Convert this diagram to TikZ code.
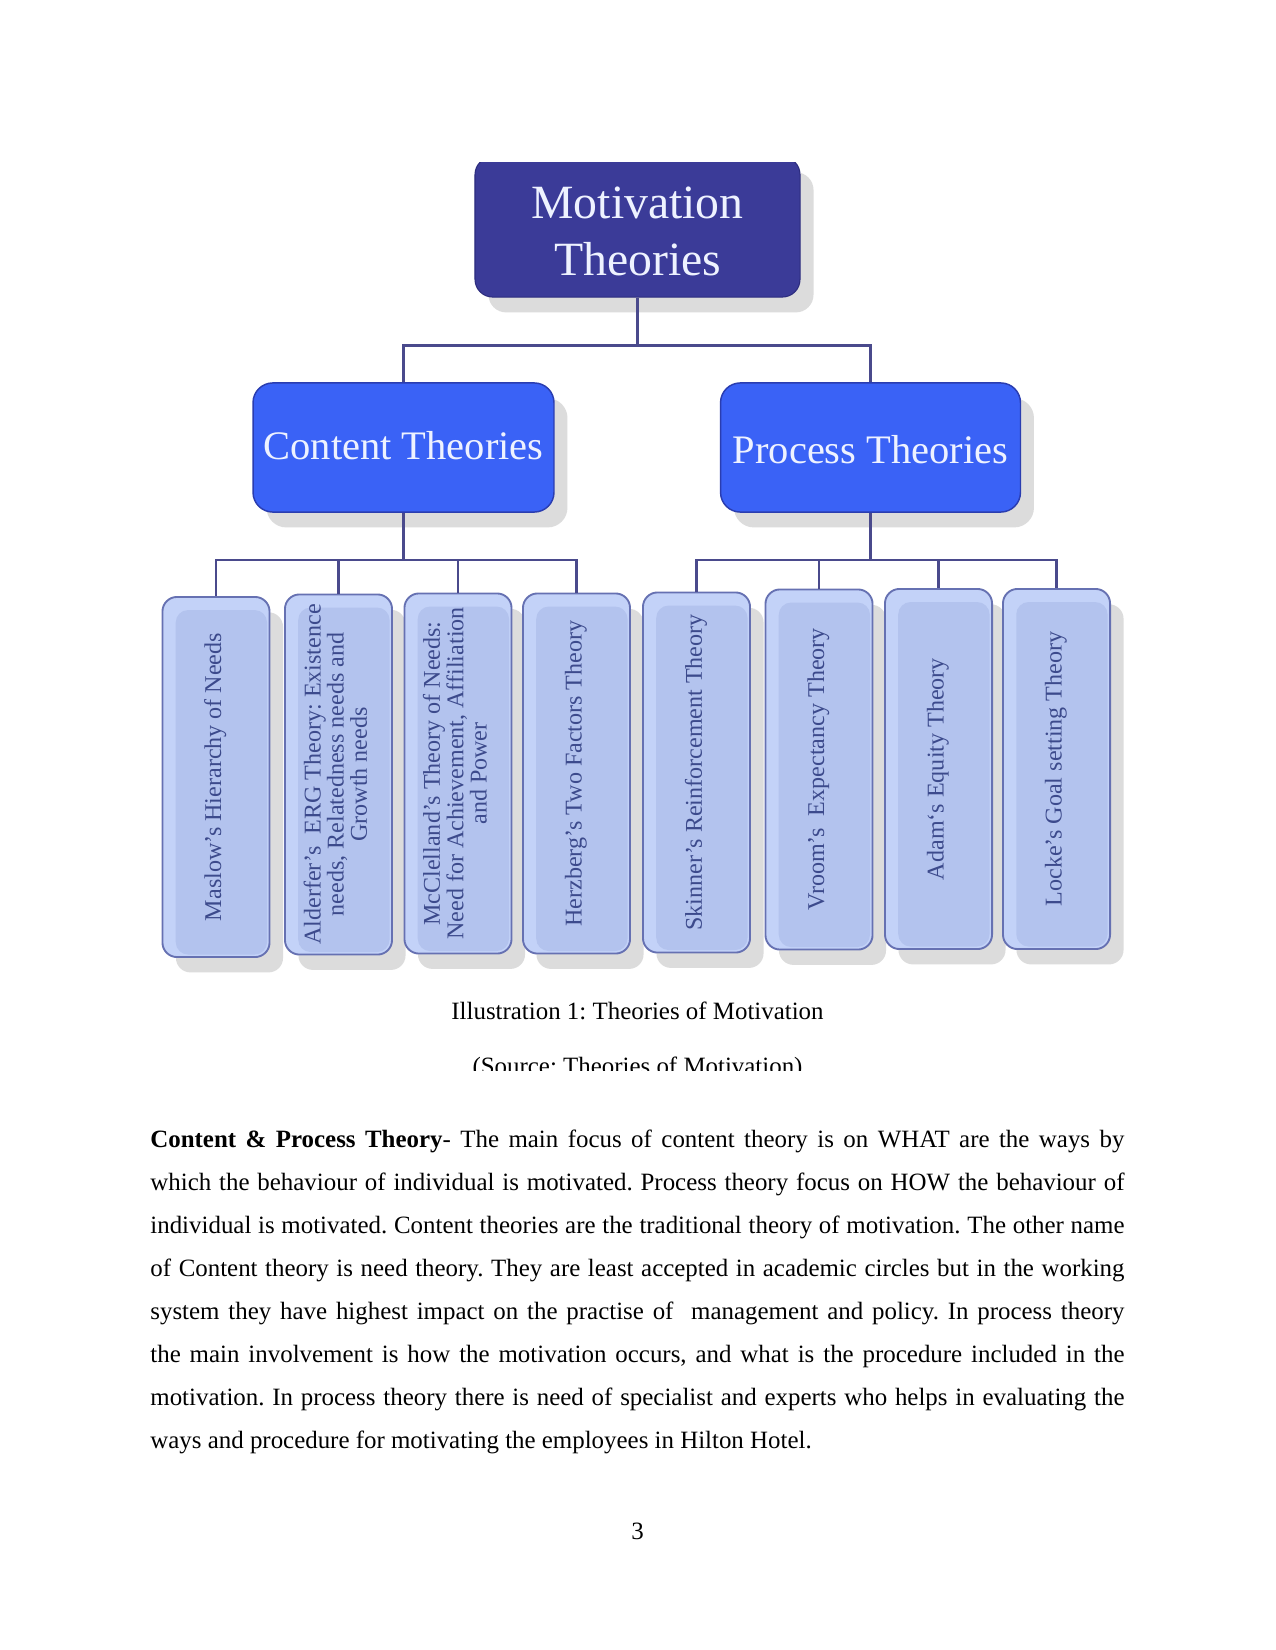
\documentclass[tikz,border=0pt]{standalone}
\usepackage{fontspec}
\setmainfont{Liberation Serif}
\usepackage{graphicx}
\usetikzlibrary{shadows}
\frenchspacing

\definecolor{motblue}{HTML}{3B3B98}
\definecolor{motedge}{HTML}{2C2C7E}
\definecolor{grpblue}{HTML}{3A62F6}
\definecolor{grpedge}{HTML}{2A3DB0}
\definecolor{leafout}{HTML}{C3D2F8}
\definecolor{leafin}{HTML}{B3C3EE}
\definecolor{leafedge}{HTML}{6671B2}
\definecolor{leaftext}{HTML}{3C4A8C}
\definecolor{linkcol}{HTML}{4A4A8C}
\definecolor{shadowgray}{HTML}{DCDCDC}
\definecolor{headtext}{HTML}{EEF2FF}

\newcommand\leaffont{\fontsize{11.6}{10.4}\selectfont}
\newcommand\leaftext[1]{\rotatebox{90}{\leaffont\begin{tabular}{@{}c@{}}#1\end{tabular}}}
\newcommand\nudge[2]{\raisebox{#1}[\height][\depth]{#2}}

\tikzset{
  boxshadow/.style={drop shadow={shadow xshift=6.5pt, shadow yshift=-7.4pt, fill=shadowgray, opacity=1}},
  topbox/.style={boxshadow, fill=motblue, draw=motedge, line width=0.5pt, rounded corners=8.5pt,
    minimum width=156.6pt, minimum height=67.5pt, inner sep=0pt, text=headtext,
    font=\fontsize{23}{27.5}\selectfont},
  groupbox/.style={boxshadow, fill=grpblue, draw=grpedge, line width=0.7pt, rounded corners=9.5pt,
    minimum height=62.2pt, inner sep=0pt, text=headtext, font=\fontsize{19.5}{23}\selectfont},
  leafbox/.style={boxshadow, fill=leafout, draw=leafedge, line width=0.9pt, rounded corners=7pt,
    minimum width=51.6pt, minimum height=173.5pt, inner sep=0pt, text=leaftext,
    path picture={\fill[leafin, rounded corners=6pt]
      ([xshift=6.4pt,yshift=-6.3pt]path picture bounding box.north west) rectangle
      ([xshift=-1.2pt,yshift=1.2pt]path picture bounding box.south east);}},
  link/.style={draw=linkcol, line width=1.2pt},
  pagetext/.style={font=\fontsize{12}{14}\selectfont, inner sep=0pt}
}

\begin{document}
\begin{tikzpicture}[x=0.4818pt, y=-0.4818pt]
  \useasboundingbox[fill=white] (0,0) rectangle (1275,1650);

  % top of the tree
  \node[topbox] (mot) at (637.5,227) {\nudge{-4pt}{\begin{tabular}{@{}c@{}}Motivation\\Theories\end{tabular}}};
  \fill[white] (420,120) rectangle (840,162);

  % the two groups
  \node[groupbox, minimum width=145pt] (content) at (403.5,447.5) {\nudge{1pt}{Content Theories}};
  \node[groupbox, minimum width=144.5pt] (process) at (870.5,447.5) {\nudge{-1pt}{Process Theories}};

  % content theories
  \node[leafbox] (maslow) at (216,777) {\leaftext{Maslow’s Hierarchy of Needs}};
  \node[leafbox] (alderfer) at (338.5,774.5) {\leaftext{Alderfer’s\ \ ERG Theory: Existence\\needs, Relatedness needs and\\Growth needs}};
  \node[leafbox] (mcclelland) at (458,773.5) {\leaftext{McClelland’s Theory of Needs:\\Need for Achievement, Affiliation\\and Power}};
  \node[leafbox] (herzberg) at (576.5,773.5) {\leaftext{Herzberg’s Two Factors Theory}};

  % process theories
  \node[leafbox] (skinner) at (696.5,772.5) {\leaftext{Skinner’s Reinforcement Theory}};
  \node[leafbox] (vroom) at (819,769.5) {\leaftext{Vroom’s\ \ Expectancy Theory}};
  \node[leafbox] (adam) at (938.5,769) {\leaftext{Adam{\char"60}s Equity Theory}};
  \node[leafbox] (locke) at (1056.5,769) {\leaftext{Locke’s Goal setting Theory}};

  % connectors
  \draw[link] (mot.south) -- ++(0,48) coordinate (motbar);
  \draw[link] (motbar) -| (content.north);
  \draw[link] (motbar) -| (process.north);
  \draw[link] (content.south) -- ++(0,47) coordinate (cbar);
  \draw[link] (process.south) -- ++(0,47) coordinate (pbar);
  \foreach \leaf in {maslow,alderfer,mcclelland,herzberg}
    \draw[link] (cbar) -| (\leaf.north);
  \foreach \leaf in {skinner,vroom,adam,locke}
    \draw[link] (pbar) -| (\leaf.north);

  % caption
  \node[pagetext, anchor=base] (caption) at (637.5,1019) {Illustration 1: Theories of Motivation};
  \begin{scope}
    \clip (300,1030) rectangle (975,1070);
    \node[pagetext, anchor=base] (source) at (637.5,1074) {(Source: Theories of Motivation)};
  \end{scope}

  % body text
  \node[pagetext, anchor=base west] (body) at (150,1147) {\parbox[t]{469.3pt}{%
    \fontsize{12}{20.75}\selectfont\parindent=0pt\tolerance=9999
    \textbf{Content \& Process Theory}- The main focus of content theory is on WHAT are the ways by\linebreak
    which the behaviour of individual is motivated. Process theory focus on HOW the behaviour of\linebreak
    individual is motivated. Content theories are the traditional theory of motivation. The other name\linebreak
    of Content theory is need theory. They are least accepted in academic circles but in the working\linebreak
    system they have highest impact on the practise of\ \ management and policy. In process theory\linebreak
    the main involvement is how the motivation occurs, and what is the procedure included in the\linebreak
    motivation. In process theory there is need of specialist and experts who helps in evaluating the\linebreak
    ways and procedure for motivating the employees in Hilton Hotel.}};

  \node[pagetext, anchor=base] (pagenum) at (637.5,1539) {3};
\end{tikzpicture}
\end{document}
